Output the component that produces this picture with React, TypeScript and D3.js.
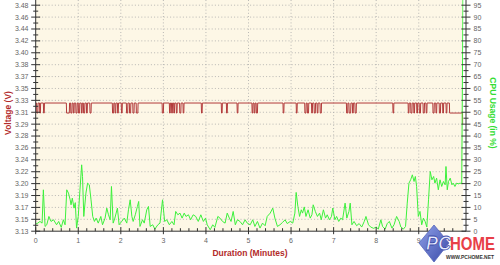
import React from "react";
import * as d3 from "d3";

const W = 500;
const H = 265;

const xTickLabels = ["0", "1", "2", "3", "4", "5", "6", "7", "8", "9"];
const voltTickLabels = [
  "3.13", "3.15", "3.17", "3.19", "3.20", "3.22", "3.24", "3.26", "3.28", "3.29",
  "3.31", "3.33", "3.35", "3.37", "3.38", "3.40", "3.42", "3.44", "3.46", "3.48",
];
const cpuTickLabels = [
  "0", "5", "10", "15", "20", "25", "30", "35", "40", "45",
  "50", "55", "60", "65", "70", "75", "80", "85", "90", "95",
];

// Voltage toggles between two levels; low-state intervals in minutes
const voltHigh = 3.3285;
const voltLow = 3.313;
const voltFinal = 3.296;
const voltLowIntervals: [number, number][] = [
  [0.02, 0.05], [0.09, 0.11], [0.18, 0.2],
  [0.72, 0.79], [0.82, 0.85], [0.88, 0.9], [0.94, 0.97], [1.0, 1.03], [1.07, 1.09], [1.12, 1.15], [1.19, 1.21], [1.27, 1.3],
  [1.8, 1.83], [1.86, 1.88], [1.92, 1.94], [2.01, 2.03], [2.13, 2.16], [2.2, 2.23], [2.28, 2.31], [2.36, 2.4],
  [2.97, 3.0], [3.14, 3.16], [3.19, 3.21], [3.24, 3.26], [3.3, 3.32], [3.38, 3.41], [3.46, 3.48],
  [3.89, 3.91], [4.36, 4.38], [4.48, 4.5], [4.73, 4.75],
  [5.08, 5.1], [5.13, 5.15], [5.18, 5.21],
  [5.81, 5.83], [6.12, 6.14], [6.32, 6.35], [6.38, 6.41], [6.48, 6.5], [6.54, 6.57], [6.61, 6.63], [6.68, 6.71],
  [7.3, 7.33], [7.36, 7.4], [7.44, 7.46], [7.5, 7.53],
  [8.39, 8.41], [8.75, 8.77], [8.81, 8.84], [8.88, 8.9], [8.95, 8.97], [9.01, 9.04], [9.1, 9.13], [9.17, 9.19],
  [9.33, 9.36], [9.4, 9.42], [9.48, 9.51], [9.56, 9.58], [9.64, 9.66], [9.72, 10.03],
];

const cpuTimes = [
  0.0, 0.05, 0.1, 0.15, 0.18, 0.22, 0.26, 0.31, 0.36, 0.42, 0.49, 0.54, 0.6, 0.65, 0.69, 0.73, 0.77, 0.81, 0.83, 0.86,
  0.9, 0.93, 0.96, 1.0, 1.04, 1.08, 1.1, 1.13, 1.18, 1.22, 1.26, 1.3, 1.34, 1.38, 1.42, 1.47, 1.53, 1.57, 1.63, 1.67,
  1.71, 1.75, 1.78, 1.82, 1.86, 1.92, 1.96, 2.02, 2.08, 2.14, 2.18, 2.22, 2.26, 2.29, 2.34, 2.39, 2.42, 2.45, 2.51, 2.55,
  2.61, 2.65, 2.69, 2.75, 2.8, 2.87, 2.92, 2.98, 3.03, 3.08, 3.14, 3.2, 3.25, 3.29, 3.34, 3.39, 3.44, 3.49, 3.53, 3.59,
  3.64, 3.7, 3.76, 3.82, 3.88, 3.94, 3.99, 4.03, 4.1, 4.16, 4.21, 4.28, 4.33, 4.39, 4.45, 4.5, 4.55, 4.59, 4.64, 4.69,
  4.74, 4.8, 4.86, 4.92, 4.97, 5.04, 5.1, 5.15, 5.21, 5.27, 5.33, 5.39, 5.44, 5.51, 5.57, 5.62, 5.68, 5.74, 5.8, 5.86,
  5.91, 5.98, 6.04, 6.09, 6.12, 6.16, 6.2, 6.24, 6.27, 6.31, 6.35, 6.4, 6.45, 6.49, 6.52, 6.57, 6.62, 6.67, 6.71, 6.76,
  6.81, 6.85, 6.9, 6.95, 6.98, 7.03, 7.07, 7.12, 7.17, 7.21, 7.27, 7.31, 7.36, 7.39, 7.43, 7.48, 7.54, 7.6, 7.66, 7.72,
  7.76, 7.82, 7.87, 7.94, 8.0, 8.05, 8.11, 8.15, 8.21, 8.26, 8.31, 8.37, 8.42, 8.48, 8.54, 8.58, 8.64, 8.69, 8.73, 8.77,
  8.81, 8.85, 8.89, 8.92, 8.95, 8.99, 9.03, 9.07, 9.11, 9.15, 9.19, 9.23, 9.27, 9.31, 9.35, 9.38, 9.42, 9.46, 9.5, 9.54,
  9.58, 9.62, 9.64, 9.67, 9.7, 9.74, 9.78, 9.81, 9.85, 9.89, 9.93, 9.97, 10.01, 10.04,
];
const cpuValues = [
  3.0, 3.4, 4.1, 3.4, 17.4, 2.0, 2.7, 6.2, 4.1, 4.8, 2.7, 4.1, 1.6, 4.8, 2.7, 17.4, 16.0, 13.2, 11.1, 13.9,
  9.7, 12.0, 1.3, 6.2, 17.4, 27.9, 23.0, 6.2, 16.0, 20.2, 19.5, 13.2, 6.2, 4.1, 5.5, 3.4, 6.2, 2.7, 5.5, 9.7,
  6.9, 4.8, 18.8, 3.4, 5.5, 9.7, 2.7, 4.1, 5.5, 3.4, 9.0, 13.2, 6.2, 4.1, 6.9, 10.4, 12.5, 2.0, 4.8, 3.4,
  9.0, 10.4, 2.0, 2.7, 0.9, 2.7, 3.4, 13.2, 4.1, 4.8, 2.7, 4.1, 2.7, 8.3, 6.9, 7.6, 5.5, 7.6, 6.2, 6.9,
  4.8, 6.9, 6.2, 4.1, 6.9, 4.1, 5.5, 2.7, 0.6, 2.7, 1.6, 6.2, 5.5, 4.1, 3.4, 7.6, 5.5, 4.1, 8.3, 2.7,
  4.8, 4.1, 2.7, 4.8, 3.4, 2.7, 4.8, 2.0, 4.1, 1.3, 3.4, 2.3, 6.2, 7.6, 9.7, 5.5, 2.0, 2.7, 3.7, 4.8,
  3.2, 4.1, 3.4, 7.6, 16.3, 10.4, 6.2, 9.0, 7.6, 10.2, 6.2, 9.0, 5.5, 6.9, 11.1, 8.3, 6.2, 7.6, 4.8, 9.0,
  5.5, 6.9, 4.8, 6.2, 9.7, 4.8, 6.2, 4.1, 5.5, 4.8, 11.8, 5.5, 8.3, 11.8, 2.7, 4.1, 2.3, 3.2, 1.75, 4.1,
  6.2, 2.7, 1.75, 1.2, 1.75, 0.9, 4.8, 2.0, 0.9, 3.2, 4.1, 1.3, 2.7, 6.2, 4.1, 1.75, 0.9, 2.0, 11.8, 20.2,
  21.6, 23.7, 20.9, 23.0, 18.8, 6.2, 8.3, 2.7, 5.5, 4.1, 1.75, 13.2, 25.1, 21.6, 23.0, 20.2, 22.3, 17.4, 21.6, 18.8,
  20.9, 19.5, 27.2, 17.4, 20.9, 22.3, 19.5, 20.2, 18.8, 20.2, 19.9, 20.2, 20.0, 100,
];

const FONT = "'Liberation Sans', Arial, sans-serif";

export default function App() {
  const plotL = 35.7;
  const plotR = 463;
  const plotT = 0;
  const plotB = 231.2;
  const axisR = 466;

  const x = d3.scaleLinear().domain([0, 10.04]).range([plotL, plotR]);
  const yV = d3.scaleLinear().domain([3.13, 3.48]).range([plotB, 5.2]);
  const yC = d3.scaleLinear().domain([0, 95]).range([plotB, 5.2]);

  const voltTicks = d3.range(voltTickLabels.length).map((i) => 3.13 + (i * 0.35) / (voltTickLabels.length - 1));
  const cpuTicks = cpuTickLabels.map((t) => +t);
  const minorY = d3.range(voltTicks.length - 1).map((i) => (yV(voltTicks[i]) + yV(voltTicks[i + 1])) / 2);
  const xMajor = xTickLabels.map((t) => +t);
  const xMinor = d3.range(0, 50).map((i) => i * 0.2).filter((v) => Math.abs(v - Math.round(v)) > 0.01);

  const vPts: [number, number][] = [[0, voltHigh]];
  const eps = 0.006;
  voltLowIntervals.forEach(([s, e], idx) => {
    vPts.push([s, voltHigh]);
    vPts.push([s + eps, voltLow]);
    vPts.push([e, voltLow]);
    if (idx < voltLowIntervals.length - 1) vPts.push([e + eps, voltHigh]);
  });
  vPts.push([10.035, voltFinal]);

  const vLine = d3
    .line<[number, number]>()
    .x((d) => x(d[0]))
    .y((d) => yV(d[1]));
  const cLine = d3
    .line<number>()
    .x((_, i) => x(cpuTimes[i]))
    .y((d) => yC(d));

  return (
    <div style={{ position: "absolute", left: 0, top: 0 }}>
      <svg width={W} height={H} style={{ display: "block", fontFamily: FONT }}>
        <defs>
          <clipPath id="plotclip">
            <rect x={plotL} y={plotT} width={plotR - plotL + 0.5} height={plotB - plotT} />
          </clipPath>
          <linearGradient id="diag" x1="0" y1="0" x2="1" y2="1">
            <stop offset="0" stopColor="#8fa0e8" />
            <stop offset="1" stopColor="#3a4aa8" />
          </linearGradient>
        </defs>
        <rect x={0} y={0} width={W} height={H} fill="#ffffff" />
        <rect x={plotL} y={plotT} width={plotR - plotL} height={plotB - plotT} fill="#fdf7e6" />

        <g stroke="#a8a8a8" strokeWidth={0.8} strokeDasharray="1,2.2">
          {voltTicks.slice(1).map((v, i) => (
            <line key={"gh" + i} x1={plotL} x2={plotR} y1={yV(v)} y2={yV(v)} />
          ))}
          {xMajor.slice(1).map((m) => (
            <line key={"gv" + m} x1={x(m)} x2={x(m)} y1={plotT} y2={plotB} />
          ))}
        </g>

        <g clipPath="url(#plotclip)">
          <path d={vLine(vPts) || ""} fill="none" stroke="#b23a3a" strokeWidth={1} />
          <path d={cLine(cpuValues) || ""} fill="none" stroke="#3cf03c" strokeWidth={1} />
        </g>

        <g stroke="#333" strokeWidth={1}>
          <line x1={plotL} x2={plotL} y1={0} y2={plotB} />
          {voltTicks.map((v, i) => (
            <line key={"lt" + i} x1={plotL - 4.5} x2={plotL + 4.5} y1={yV(v)} y2={yV(v)} />
          ))}
          {minorY.map((y, i) => (
            <line key={"lm" + i} x1={plotL - 2.5} x2={plotL + 2.5} y1={y} y2={y} />
          ))}
        </g>
        <g fontSize={7} fill="#666" textAnchor="end">
          {voltTicks.map((v, i) => (
            <text key={"ll" + i} x={28.5} y={yV(v)} dy="0.35em">
              {voltTickLabels[i]}
            </text>
          ))}
        </g>

        <g stroke="#333" strokeWidth={1}>
          <line x1={axisR} x2={axisR} y1={0} y2={plotB} />
          {cpuTicks.map((c, i) => (
            <line key={"rt" + i} x1={axisR - 4.5} x2={axisR + 4.5} y1={yC(c)} y2={yC(c)} />
          ))}
          {minorY.map((y, i) => (
            <line key={"rm" + i} x1={axisR - 2.5} x2={axisR + 2.5} y1={y} y2={y} />
          ))}
        </g>
        <g fontSize={7} fill="#666" textAnchor="start">
          {cpuTicks.map((c, i) => (
            <text key={"rl" + i} x={473.5} y={yC(c)} dy="0.35em">
              {cpuTickLabels[i]}
            </text>
          ))}
        </g>

        <g stroke="#333" strokeWidth={1}>
          <line x1={plotL} x2={axisR} y1={plotB} y2={plotB} />
          {xMajor.map((m) => (
            <line key={"bt" + m} x1={x(m)} x2={x(m)} y1={plotB - 4} y2={plotB + 3} />
          ))}
          {xMinor.map((m, i) => (
            <line key={"bm" + i} x1={x(m)} x2={x(m)} y1={plotB - 3} y2={plotB} />
          ))}
        </g>
        <g fontSize={7} fill="#666" textAnchor="middle">
          {xMajor.map((m, i) => (
            <text key={"bl" + m} x={x(m)} y={242.5}>
              {xTickLabels[i]}
            </text>
          ))}
        </g>

        <text x={250} y={256} fontSize={8.5} fontWeight="bold" fill="#b22a2a" textAnchor="middle">
          Duration (Minutes)
        </text>
        <text
          transform="translate(10.5,113) rotate(-90)"
          fontSize={8.5}
          fontWeight="bold"
          fill="#b22a2a"
          textAnchor="middle"
        >
          Voltage (V)
        </text>
        <text
          transform="translate(489.5,113) rotate(90)"
          fontSize={8.5}
          fontWeight="bold"
          fill="#33dd33"
          textAnchor="middle"
        >
          CPU Usage (in %)
        </text>

        <g>
          <polygon points="434,225 449,243 434,262 419,243" fill="url(#diag)" stroke="#5566bb" strokeWidth={0.8} />
          <text
            x={426}
            y={250}
            fontSize={20}
            fontWeight="bold"
            fontStyle="italic"
            fill="#e8ecff"
            stroke="#3a4aa8"
            strokeWidth={0.8}
            textLength={25}
            lengthAdjust="spacingAndGlyphs"
          >
            PC
          </text>
          <text
            x={450}
            y={250}
            fontSize={19}
            fontWeight="bold"
            fill="#e84048"
            textLength={45}
            lengthAdjust="spacingAndGlyphs"
          >
            HOME
          </text>
          <text
            x={446}
            y={259}
            fontSize={6}
            fontWeight="bold"
            fill="#333"
            textLength={48}
            lengthAdjust="spacingAndGlyphs"
          >
            WWW.PCHOME.NET
          </text>
        </g>
      </svg>
    </div>
  );
}
